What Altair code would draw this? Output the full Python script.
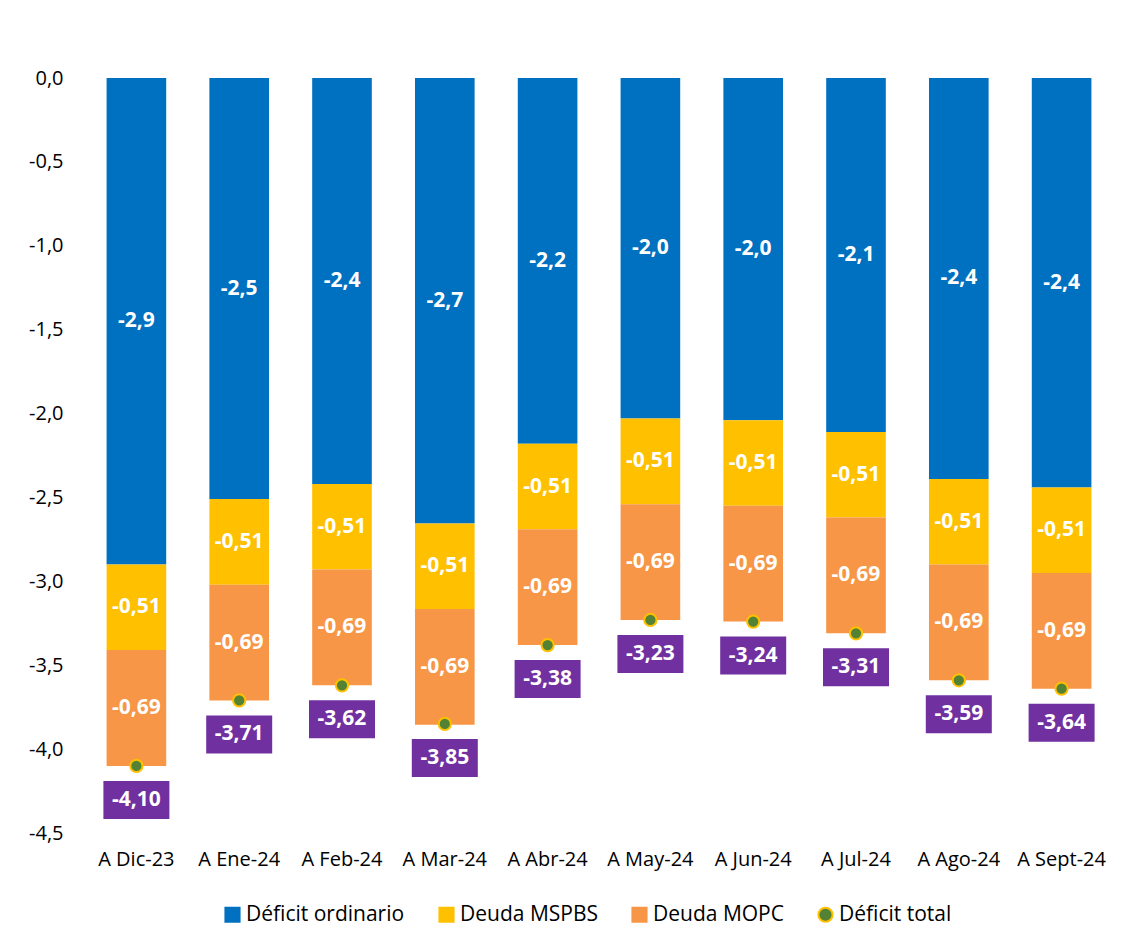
import altair as alt
import pandas as pd

categorias = ["A Dic-23", "A Ene-24", "A Feb-24", "A Mar-24", "A Abr-24",
              "A May-24", "A Jun-24", "A Jul-24", "A Ago-24", "A Sept-24"]
deficit_ordinario = [-2.90, -2.51, -2.42, -2.655, -2.18, -2.03, -2.04, -2.11, -2.39, -2.44]
deuda_mspbs = [-0.51, -0.51, -0.51, -0.51, -0.51, -0.51, -0.51, -0.51, -0.51, -0.51]
deuda_mopc = [-0.69, -0.69, -0.69, -0.69, -0.69, -0.69, -0.69, -0.69, -0.69, -0.69]
deficit_total = [-4.10, -3.71, -3.62, -3.85, -3.38, -3.23, -3.24, -3.31, -3.59, -3.64]

series = ["Déficit ordinario", "Deuda MSPBS", "Deuda MOPC", "Déficit total"]
colores = ["#0070C0", "#FFC000", "#F79646", "#548235"]
bordes = ["#0070C0", "#FFC000", "#F79646", "#FFC000"]
formas = ["square", "square", "square", "circle"]


def fmt(v, d):
    return f"{v:.{d}f}".replace(".", ",")


rows = []
for i, c in enumerate(categorias):
    for orden, (s, vals, d) in enumerate([(series[0], deficit_ordinario, 1),
                                          (series[1], deuda_mspbs, 2),
                                          (series[2], deuda_mopc, 2)]):
        rows.append({"cat": c, "serie": s, "valor": vals[i], "orden": orden,
                     "label": fmt(vals[i], d)})
df = pd.DataFrame(rows)

df_tot = pd.DataFrame({"cat": categorias, "total": deficit_total,
                       "serie": series[3],
                       "label": [fmt(v, 2) for v in deficit_total]})

FONT = "Open Sans"

x = alt.X("cat:N", sort=categorias,
          scale=alt.Scale(paddingInner=0.42, paddingOuter=0.21),
          axis=alt.Axis(title=None, labelAngle=0, ticks=False, domain=False,
                        labelFontSize=20, labelColor="#000000", labelPadding=16,
                        labelFont=FONT))

yscale = alt.Scale(domain=[-4.5, 0], nice=False)
yaxis = alt.Axis(title=None, values=[0, -0.5, -1, -1.5, -2, -2.5, -3, -3.5, -4, -4.5],
                 grid=False, ticks=False, domain=False, labelFontSize=20,
                 labelColor="#000000", labelPadding=22, labelFont=FONT,
                 labelExpr="replace(replace(format(datum.value, '.1f'), '.', ','), '\u2212', '-')")

legend = alt.Legend(title=None, orient="none", legendX=137, legendY=826,
                    direction="horizontal", labelFontSize=21, labelFont=FONT,
                    labelColor="#000000", symbolSize=200, columnPadding=30,
                    labelOffset=3, symbolStrokeWidth=2, symbolOpacity=1)

color = alt.Color("serie:N", scale=alt.Scale(domain=series, range=colores), legend=legend)
stroke = alt.Stroke("serie:N", scale=alt.Scale(domain=series, range=bordes), legend=legend)
shape = alt.Shape("serie:N", scale=alt.Scale(domain=series, range=formas), legend=legend)

stacked = alt.Chart(df).transform_stack(
    stack="valor", as_=["y0", "y1"], groupby=["cat"],
    sort=[alt.SortField("orden", order="ascending")]
).transform_calculate(ymid="(datum.y0 + datum.y1) / 2")

bars = stacked.mark_bar().encode(
    x=x,
    y=alt.Y("y0:Q", scale=yscale, axis=yaxis),
    y2="y1:Q",
    color=color,
)

seg_text = stacked.mark_text(color="white", fontWeight="bold", fontSize=21, font=FONT,
                             baseline="middle").encode(
    x=x, y=alt.Y("ymid:Q", scale=yscale), text="label:N")

tot = alt.Chart(df_tot)
caja = tot.mark_point(shape="M-1,-0.576L1,-0.576L1,0.576L-1,0.576Z", size=66 * 66,
                      filled=True, fill="#7030A0", opacity=1, strokeWidth=0,
                      yOffset=34).encode(x=x, y=alt.Y("total:Q", scale=yscale))

tot_text = tot.mark_text(color="white", fontWeight="bold", fontSize=21, font=FONT,
                         baseline="middle", dy=34).encode(
    x=x, y=alt.Y("total:Q", scale=yscale), text="label:N")

puntos = tot.mark_point(filled=True, size=150, strokeWidth=2, opacity=1).encode(
    x=x, y=alt.Y("total:Q", scale=yscale), color=color, stroke=stroke, shape=shape)

chart = alt.layer(bars, seg_text, caja, tot_text, puntos).properties(
    width=1028, height=755,
    padding={"left": 77, "top": 70, "right": 10, "bottom": 98},
    autosize=alt.AutoSizeParams(type="none"),
).configure_view(stroke=None)

chart.save("out.html", embed_options={"renderer": "svg", "actions": False})
